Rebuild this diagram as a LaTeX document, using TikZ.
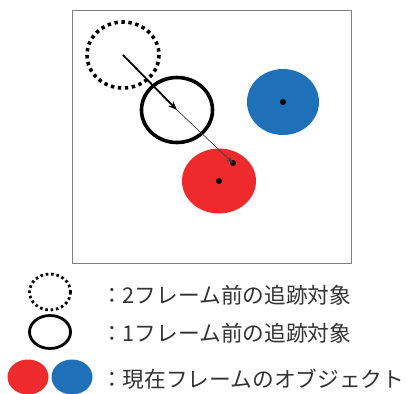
\documentclass[tikz,border=0pt]{standalone}
\usepackage{fontspec}
\newfontfamily\jp{Noto Sans CJK JP}
\usetikzlibrary{arrows.meta}
\definecolor{objred}{HTML}{EE2A2C}
\definecolor{objblue}{HTML}{1E70B8}
\definecolor{framegray}{HTML}{7F7F7F}
\tikzset{
  dotring/.style={draw=black, line width=3.6pt, dash pattern=on 3.4pt off 3.6pt},
  ring/.style={draw=black, line width=3.6pt},
  centerdot/.style={fill=black},
  legendtext/.style={anchor=west, inner sep=0pt, font=\jp\fontsize{21.7}{24}\selectfont, text=black!80},
  motion/.style={draw=black, line width=1.8pt, -{Stealth[length=9pt,width=7pt]}},
  predict/.style={draw=black!75, line width=0.7pt, -{Stealth[length=7pt,width=5pt]}}
}
\begin{document}
\begin{tikzpicture}[x=1pt,y=-1pt]
\useasboundingbox (0,0) rectangle (408,394);
% frame
\draw[framegray, line width=1pt] (72,10) rectangle (351,263);
% objects
\coordinate (prev2) at (123,55);
\coordinate (prev1) at (177,110);
\coordinate (red) at (219,181);
\coordinate (blue) at (283,102);
\coordinate (pred) at (233,163);
\fill[objblue] (blue) ellipse [x radius=36, y radius=33];
\fill[objred] (red) ellipse [x radius=37, y radius=32.5];
\draw[dotring] (prev2) ellipse [x radius=36, y radius=33];
\draw[ring] (prev1) ellipse [x radius=35.5, y radius=32.5];
\fill[centerdot] (blue) circle (3);
\fill[centerdot] (red) circle (3);
\fill[centerdot] (pred) circle (3);
\draw[motion] (prev2) -- (prev1);
\draw[predict] (prev1) -- (pred);
% legend
\coordinate (l2) at (50,292);
\coordinate (l1) at (50,332);
\coordinate (lr) at (28,377);
\coordinate (lb) at (72,377);
\draw[dotring, line width=2.8pt, dash pattern=on 2.6pt off 2.8pt] (l2) ellipse [x radius=20.5, y radius=18];
\draw[ring, line width=2.8pt] (l1) ellipse [x radius=20.5, y radius=16.5];
\fill[objred] (lr) ellipse [x radius=20.5, y radius=17.5];
\fill[objblue] (lb) ellipse [x radius=20.5, y radius=17.5];
\node[legendtext] (t2) at (101,295) {：2フレーム前の追跡対象};
\node[legendtext] (t1) at (101,333) {：1フレーム前の追跡対象};
\node[legendtext] (t0) at (101,379) {：現在フレームのオブジェクト};
\end{tikzpicture}
\end{document}
